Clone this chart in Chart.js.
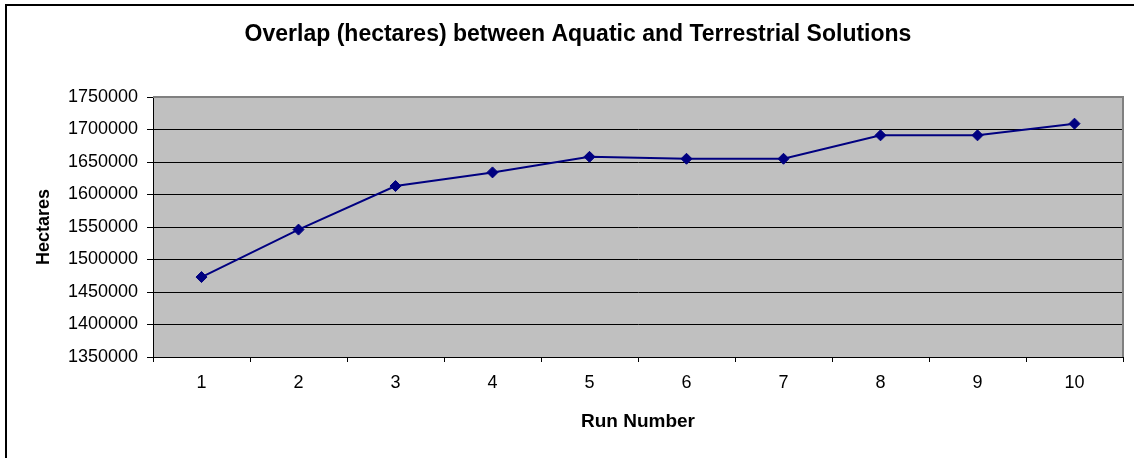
<!DOCTYPE html>
<html>
<head>
<meta charset="utf-8">
<script src="https://cdn.jsdelivr.net/npm/chart.js@4/dist/chart.umd.min.js"></script>
<style>
  html, body { margin: 0; padding: 0; background: #ffffff; }
  #wrap { width: 1134px; height: 458px; }
</style>
</head>
<body>
<div id="wrap"><canvas id="c" width="1134" height="458"></canvas></div>
<script>
// Run numbers along the x axis
const runs = ['1', '2', '3', '4', '5', '6', '7', '8', '9', '10'];
// Overlap between aquatic and terrestrial solutions, in hectares
const overlapHectares = [1473000, 1546000, 1613000, 1634000, 1658000, 1655000, 1655000, 1691000, 1691000, 1709000];
// Value axis range and step
const yMin = 1350000;
const yMax = 1750000;
const yStep = 50000;

const FONT = '"Liberation Sans", Arial, sans-serif';

// Grey plot area, grey top/right border and the outer chart frame
const framePlugin = {
  id: 'frame',
  beforeDraw(chart) {
    const { ctx, chartArea: a } = chart;
    ctx.save();
    ctx.fillStyle = '#c0c0c0';
    ctx.fillRect(a.left, a.top, a.right - a.left, a.bottom - a.top);
    ctx.strokeStyle = '#000000';
    ctx.lineWidth = 2;
    ctx.strokeRect(6, 5, 1400, 700);
    ctx.restore();
  },
  beforeDatasetsDraw(chart) {
    const { ctx, chartArea: a } = chart;
    ctx.save();
    ctx.strokeStyle = '#808080';
    ctx.lineWidth = 2;
    ctx.beginPath();
    ctx.moveTo(a.left, a.top);
    ctx.lineTo(a.right, a.top);
    ctx.lineTo(a.right, a.bottom);
    ctx.stroke();
    ctx.restore();
  }
};

new Chart(document.getElementById('c'), {
  type: 'line',
  data: {
    labels: runs,
    datasets: [{
      data: overlapHectares,
      borderColor: '#000080',
      backgroundColor: '#000080',
      borderWidth: 2,
      tension: 0,
      pointStyle: 'rectRot',
      pointRadius: 5.5,
      pointBorderWidth: 1,
      pointBackgroundColor: '#000080',
      pointBorderColor: '#000080'
    }]
  },
  options: {
    responsive: false,
    devicePixelRatio: 1,
    animation: false,
    layout: { padding: { left: 33, right: 11, top: 0, bottom: 0 } },
    plugins: {
      legend: { display: false },
      tooltip: { enabled: false },
      title: {
        display: true,
        text: 'Overlap (hectares) between Aquatic and Terrestrial Solutions',
        color: '#000000',
        font: { family: FONT, size: 23, weight: 'bold' },
        padding: { top: 20.5, bottom: 48.9 }
      }
    },
    scales: {
      x: {
        offset: true,
        afterFit(scale) { scale.height = 101; },
        grid: {
          offset: true,
          drawOnChartArea: false,
          drawTicks: true,
          tickLength: 5,
          tickColor: '#000000',
          tickWidth: 1
        },
        border: { display: true, color: '#000000', width: 1 },
        ticks: {
          color: '#000000',
          padding: 10,
          font: { family: FONT, size: 18 }
        },
        title: {
          display: true,
          text: 'Run Number',
          color: '#000000',
          font: { family: FONT, size: 19, weight: 'bold' },
          padding: { top: 0, bottom: 25 }
        }
      },
      y: {
        min: yMin,
        max: yMax,
        afterFit(scale) { scale.width = 120; },
        grid: {
          color: (ctx) => (ctx.tick && ctx.tick.value === yMax ? '#808080' : '#000000'),
          lineWidth: 1,
          drawTicks: true,
          tickLength: 6,
          tickColor: '#000000'
        },
        border: { display: true, color: '#000000', width: 1 },
        ticks: {
          stepSize: yStep,
          color: '#000000',
          padding: 9,
          font: { family: FONT, size: 18 },
          callback: (v) => String(v)
        },
        title: {
          display: true,
          text: 'Hectares',
          color: '#000000',
          font: { family: FONT, size: 18, weight: 'bold' },
          padding: { top: 0, bottom: 0 }
        }
      }
    }
  },
  plugins: [framePlugin]
});
</script>
</body>
</html>
